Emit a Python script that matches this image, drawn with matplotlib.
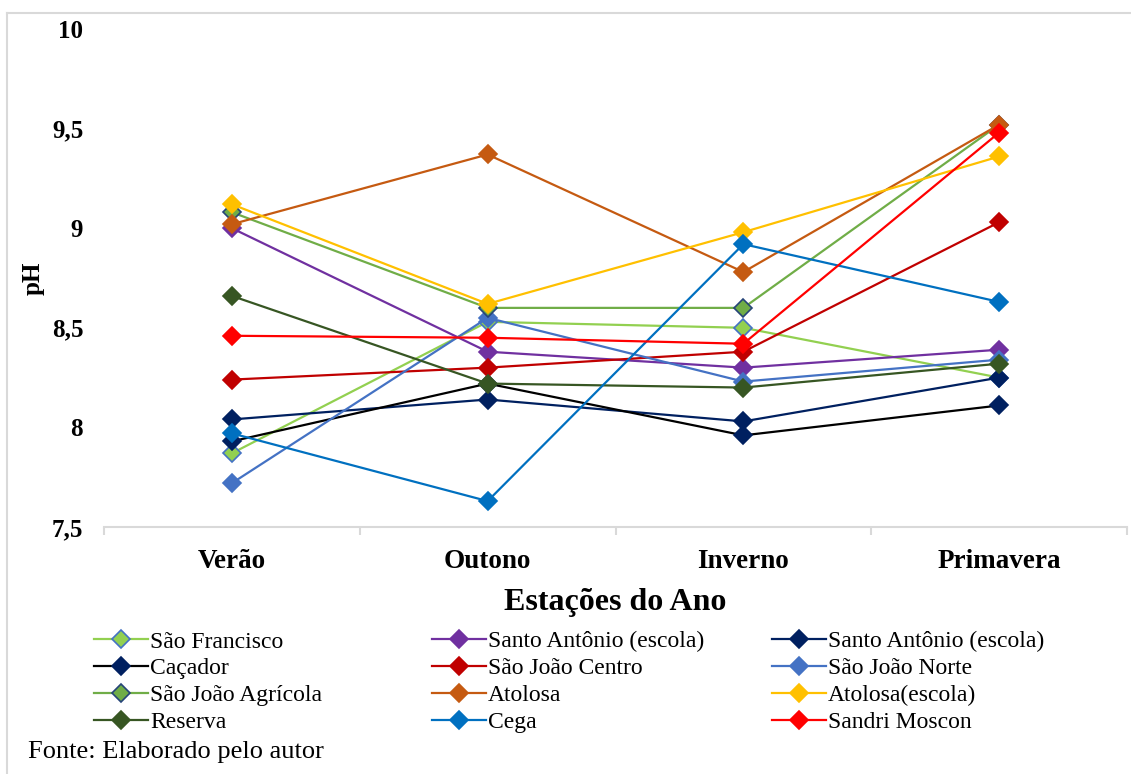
import matplotlib
matplotlib.use("Agg")
import matplotlib.pyplot as plt
from matplotlib.lines import Line2D

plt.rcParams['font.family'] = ['Liberation Serif', 'DejaVu Serif']

estacoes = ['Verão', 'Outono', 'Inverno', 'Primavera']

sao_francisco = [7.87, 8.53, 8.50, 8.25]
santo_antonio_escola = [9.00, 8.38, 8.30, 8.39]
santo_antonio_escola2 = [8.04, 8.14, 8.03, 8.25]
cacador = [7.93, 8.22, 7.96, 8.11]
sao_joao_centro = [8.24, 8.30, 8.38, 9.03]
sao_joao_norte = [7.72, 8.55, 8.23, 8.34]
sao_joao_agricola = [9.08, 8.60, 8.60, 9.52]
atolosa = [9.02, 9.37, 8.78, 9.52]
atolosa_escola = [9.12, 8.62, 8.98, 9.36]
reserva = [8.66, 8.22, 8.20, 8.32]
cega = [7.97, 7.63, 8.92, 8.63]
sandri_moscon = [8.46, 8.45, 8.42, 9.48]

yticks = [7.5, 8, 8.5, 9, 9.5, 10]
ytick_labels = ['7,5', '8', '8,5', '9', '9,5', '10']

# (nome, valores, cor da linha, cor do marcador, borda do marcador)
series = [
    ('São Francisco', sao_francisco, '#92D050', '#92D050', '#4472C4'),
    ('Santo Antônio (escola)', santo_antonio_escola, '#7030A0', '#7030A0', '#7030A0'),
    ('Santo Antônio (escola)', santo_antonio_escola2, '#002060', '#002060', '#002060'),
    ('Caçador', cacador, '#000000', '#002060', '#002060'),
    ('São João Centro', sao_joao_centro, '#C00000', '#C00000', '#C00000'),
    ('São João Norte', sao_joao_norte, '#4472C4', '#4472C4', '#4472C4'),
    ('São João Agrícola', sao_joao_agricola, '#70AD47', '#70AD47', '#264478'),
    ('Atolosa', atolosa, '#C55A11', '#C55A11', '#C55A11'),
    ('Atolosa(escola)', atolosa_escola, '#FFC000', '#FFC000', '#FFC000'),
    ('Reserva', reserva, '#375623', '#375623', '#375623'),
    ('Cega', cega, '#0070C0', '#0070C0', '#0070C0'),
    ('Sandri Moscon', sandri_moscon, '#FF0000', '#FF0000', '#FF0000'),
]

W, H = 1131, 774
fig = plt.figure(figsize=(W / 100, H / 100), dpi=100)
ax = fig.add_axes([104 / W, 1 - 527 / H, (1127 - 104) / W, (527 - 29) / H])

x = range(len(estacoes))
handles = []
for nome, vals, cor, face, borda in series:
    h, = ax.plot(x, vals, color=cor, lw=1.6, marker='D', ms=9,
                 markerfacecolor=face, markeredgecolor=borda, markeredgewidth=1.2,
                 label=nome)
    handles.append(h)

ax.set_xlim(-0.5, len(estacoes) - 0.5)
ax.set_ylim(7.5, 10)
ax.set_yticks(yticks)
ax.set_yticklabels(ytick_labels, fontsize=18, fontweight='bold')
ax.tick_params(axis='y', length=0, pad=15)

ax.set_xticks(list(x))
ax.set_xticklabels(estacoes, fontsize=19.5, fontweight='bold')
ax.set_xticks([i - 0.5 for i in range(len(estacoes) + 1)], minor=True)
ax.tick_params(axis='x', which='major', length=0, pad=16)
ax.tick_params(axis='x', which='minor', length=6, width=1.5, color='#D9D9D9')

for s in ['top', 'right', 'left']:
    ax.spines[s].set_visible(False)
ax.spines['bottom'].set_color('#D9D9D9')
ax.spines['bottom'].set_linewidth(1.5)

fig.text(33 / W, 1 - 278 / H, 'pH', fontsize=18, fontweight='bold',
         rotation=90, ha='center', va='center')
ax.set_xlabel('Estações do Ano', fontsize=23, fontweight='bold', labelpad=10)

# legenda em tres colunas, preenchida por linhas
col_x = [94, 432, 772]
for c in range(3):
    hs = handles[c::3]
    fig.legend(hs, [h.get_label() for h in hs], loc='upper left',
               bbox_to_anchor=(col_x[c] / W, 1 - 631 / H), frameon=False,
               fontsize=17, handlelength=2.3, handletextpad=0.08,
               labelspacing=0.23, borderaxespad=0, borderpad=0)

fig.text(28 / W, 1 - 752 / H, 'Fonte: Elaborado pelo autor', fontsize=19,
         va='center', ha='left')

# moldura da area do grafico
fig.add_artist(Line2D([7 / W, 1], [1 - 13 / H, 1 - 13 / H], color='#D9D9D9', lw=1.5))
fig.add_artist(Line2D([7 / W, 7 / W], [0, 1 - 13 / H], color='#D9D9D9', lw=1.5))

fig.savefig('out.png', dpi=100)
